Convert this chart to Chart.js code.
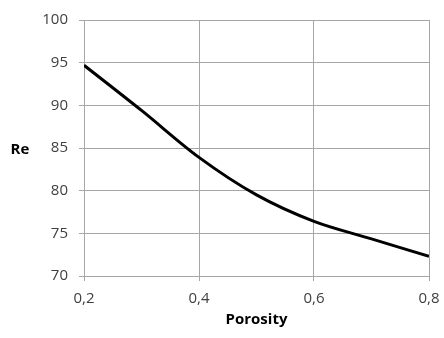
<!DOCTYPE html>
<html>
<head>
<meta charset="utf-8">
<script src="https://cdn.jsdelivr.net/npm/chart.js@4/dist/chart.umd.min.js"></script>
<style>
  html, body { margin: 0; padding: 0; background: #fff; }
  #wrap { width: 444px; height: 338px; }
</style>
</head>
<body>
<div id="wrap"><canvas id="chart"></canvas></div>
<script>
// values
const porosity = [0.2, 0.3, 0.4, 0.5, 0.6, 0.7, 0.8];
const reValues = [94.7, 89.4, 83.9, 79.5, 76.4, 74.35, 72.3];
const xTicks = [0.2, 0.4, 0.6, 0.8];
const yTicks = [70, 75, 80, 85, 90, 95, 100];
const xTitle = 'Porosity';
const yTitle = 'Re';

const gridColor = '#a6a6a6';
const fontFamily = "'Open Sans', 'Noto Sans', sans-serif";

// Excel-style horizontal y title drawn left of the tick labels
const sideTitle = {
  id: 'sideTitle',
  afterDraw(chart) {
    const ctx = chart.ctx;
    const y = chart.scales.y.getPixelForValue(85);
    ctx.save();
    ctx.font = 'bold 15px ' + fontFamily;
    ctx.fillStyle = '#000';
    ctx.textAlign = 'center';
    ctx.textBaseline = 'middle';
    ctx.fillText(yTitle, 20, y + 2);
    ctx.restore();
  }
};

new Chart(document.getElementById('chart'), {
  type: 'line',
  data: {
    datasets: [{
      data: porosity.map((p, i) => ({x: p, y: reValues[i]})),
      borderColor: '#000',
      borderWidth: 3,
      pointRadius: 0,
      cubicInterpolationMode: 'monotone',
      fill: false
    }]
  },
  options: {
    responsive: true,
    maintainAspectRatio: false,
    animation: false,
    layout: {
      padding: {left: 0, right: 15, top: 10, bottom: 2}
    },
    plugins: {
      legend: {display: false},
      tooltip: {enabled: false}
    },
    scales: {
      x: {
        type: 'linear',
        min: 0.2,
        max: 0.8,
        afterBuildTicks: (scale) => {
          scale.ticks = xTicks.map(v => ({value: v}));
        },
        afterFit: (scale) => {
          scale.paddingLeft = 0;
          scale.paddingRight = 0;
          scale.height = 60;
        },
        ticks: {
          color: '#404040',
          font: {family: fontFamily, size: 15},
          padding: 9,
          maxRotation: 0,
          callback: (v) => v.toFixed(1).replace('.', ',')
        },
        grid: {color: gridColor, tickLength: 5, lineWidth: 1},
        border: {color: gridColor, width: 1},
        title: {
          display: true,
          text: xTitle,
          color: '#000',
          font: {family: fontFamily, size: 15, weight: 'bold'},
          padding: {top: 3, bottom: 7}
        }
      },
      y: {
        min: 70,
        max: 100,
        afterBuildTicks: (scale) => {
          scale.ticks = yTicks.map(v => ({value: v}));
        },
        afterFit: (scale) => {
          scale.width = 84;
        },
        ticks: {
          color: '#404040',
          font: {family: fontFamily, size: 15},
          padding: 11
        },
        grid: {color: gridColor, tickLength: 5, lineWidth: 1},
        border: {color: gridColor, width: 1}
      }
    }
  },
  plugins: [sideTitle]
});
</script>
</body>
</html>
